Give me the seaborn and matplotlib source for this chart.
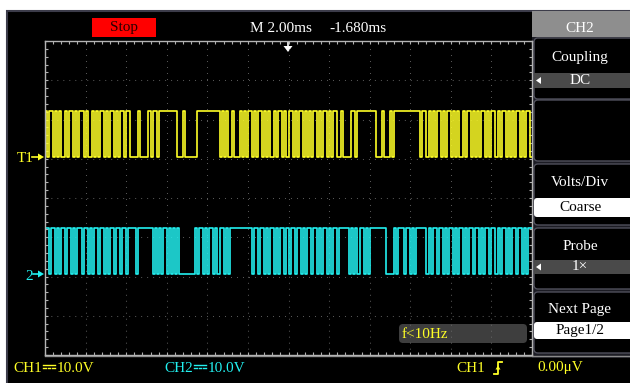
import numpy as np
import pandas as pd
import matplotlib
matplotlib.use("Agg")
import matplotlib.pyplot as plt
from matplotlib.patches import Rectangle, FancyBboxPatch, Polygon
import seaborn as sns

# ---------------------------
# Data (bit levels, 0.1 ms per bit, 240 bits = 12 div x 2 ms)
# ---------------------------
bit_ms = 0.1
high_volts = 11.7

ch1_bits = "".join([
    "101101010010110101101001010110101101011011",
    "00001000010",
    "110111111111",
    "0001000000",
    "11111111111",
    "0101",
    "00100010",
    "1011010110101001011010110101101010110101101011",
    "0010000",
    "110111111111",
    "0001000",
    "10111111111111",
    "10110101011010110101001011010101101011010110101011010110",
])

ch2_bits = "".join([
    "110110101101101011011010110110101101101101",
    "11101111111",
    "0101011010101",
    "00000000",
    "10110101101011010",
    "1111111111",
    "10110110101101011010110110101101101011010110",
    "11111",
    "01010110101",
    "1111111",
    "0000",
    "10111011010111",
    "110101101101011010110101101101011011010110101101101011",
])

time_per_div = 2.0      # ms
volts_per_div = 10.0
ch1_offset = 1.045      # divisions
ch2_offset = -1.94

yellow = "#ffff26"
cyan = "#22f0f0"


def trace(bits, name, offset):
    lv = np.array([int(c) for c in bits] + [int(bits[-1])], dtype=float)
    t = np.arange(len(lv)) * bit_ms
    v = lv * high_volts
    return pd.DataFrame({"t": t, "div": v / volts_per_div + offset, "ch": name})


df = pd.concat([trace(ch1_bits, "CH1", ch1_offset),
                trace(ch2_bits, "CH2", ch2_offset)], ignore_index=True)

plt.rcParams["font.family"] = ["Liberation Serif", "DejaVu Sans"]

fig = plt.figure(figsize=(6.3, 3.83), dpi=100, facecolor="white")

# overlay in pixel coordinates
bg = fig.add_axes([0, 0, 1, 1])
bg.set_xlim(0, 630)
bg.set_ylim(383, 0)
bg.axis("off")

bg.add_patch(Rectangle((7, 11), 640, 380, facecolor="black", edgecolor="#3c3c4a", lw=1.5))

# right menu panel
bg.add_patch(Rectangle((532, 11), 100, 26, facecolor="#8e8e8e", edgecolor="none"))
bg.add_patch(Rectangle((532, 37), 100, 321, facecolor="#1c1c24", edgecolor="none"))
box_tops = [37, 99, 163, 227, 291]
for top in box_tops:
    bg.add_patch(FancyBboxPatch((534, top + 1), 110, 61, boxstyle="round,pad=0,rounding_size=4",
                                facecolor="black", edgecolor="#50505c", lw=1))

txt = dict(ha="center", va="center", fontsize=11)
bg.text(580, 28, "CH2", color="white", **txt)
bg.text(580, 57, "Coupling", color="white", **txt)
bg.add_patch(Rectangle((534, 73), 98, 15, facecolor="#4a4a4a", edgecolor="none"))
bg.add_patch(Polygon([(536, 80.5), (541, 77), (541, 84)], facecolor="white"))
bg.text(580, 80, "DC", color="white", **txt)

bg.text(580, 183, "Volts/Div", color="white", **txt)
bg.add_patch(FancyBboxPatch((534, 198), 110, 19, boxstyle="round,pad=0,rounding_size=3",
                            facecolor="white", edgecolor="none"))
bg.text(580, 207.5, "Coarse", color="black", **txt)

bg.text(580, 247, "Probe", color="white", **txt)
bg.add_patch(Rectangle((534, 260), 98, 14, facecolor="#4a4a4a", edgecolor="none"))
bg.add_patch(Polygon([(536, 267), (541, 263.5), (541, 270.5)], facecolor="white"))
bg.text(580, 267, "1\u00d7", color="white", **txt)

bg.text(580, 310, "Next Page", color="white", **txt)
bg.add_patch(FancyBboxPatch((534, 322), 110, 17, boxstyle="round,pad=0,rounding_size=3",
                            facecolor="white", edgecolor="none"))
bg.text(580, 330.5, "Page1/2", color="black", **txt)
bg.plot([45, 630], [356, 356], color="#8a8a8a", lw=1)

# top bar
bg.add_patch(Rectangle((92, 18), 64, 19, facecolor="#ff0000", edgecolor="none"))
bg.text(124, 28, "Stop", color="#2a0000", **txt)
bg.text(250, 28, "M 2.00ms", color="white", ha="left", va="center", fontsize=11)
bg.text(329, 28, "-1.680ms", color="white", ha="left", va="center", fontsize=11)
bg.plot([288, 288], [42, 47], color="white", lw=1.2)
bg.add_patch(Polygon([(283.5, 46), (292.5, 46), (288, 52)], facecolor="white"))

# channel markers
bg.text(17, 158, "T1", color=yellow, ha="left", va="center", fontsize=11)
bg.plot([32, 40], [157, 157], color=yellow, lw=1.2)
bg.add_patch(Polygon([(38, 153.5), (44, 157), (38, 160.5)], facecolor=yellow))
bg.text(25, 276, "2", color=cyan, ha="left", va="center", fontsize=11)
bg.plot([33, 40], [274, 274], color=cyan, lw=1.2)
bg.add_patch(Polygon([(38, 270.5), (44, 274), (38, 277.5)], facecolor=cyan))

# frequency readout
bg.add_patch(FancyBboxPatch((399, 324), 128, 19, boxstyle="round,pad=0,rounding_size=4",
                            facecolor="#3e3e3e", edgecolor="none"))
bg.text(402, 334, "f<10Hz", color=yellow, ha="left", va="center", fontsize=11)


# bottom status line; the DC coupling sign (no installed glyph) is drawn as a shape
def dc_sign(x, color):
    bg.plot([x, x + 12], [364.5, 364.5], color=color, lw=1)
    for k in range(3):
        bg.plot([x + k * 4.5, x + k * 4.5 + 2.5], [368, 368], color=color, lw=1)


bg.text(13, 368, "CH1", color=yellow, ha="left", va="center", fontsize=11)
dc_sign(43, yellow)
bg.text(57, 368, "10.0V", color=yellow, ha="left", va="center", fontsize=11)
bg.text(164, 368, "CH2", color=cyan, ha="left", va="center", fontsize=11)
dc_sign(194, cyan)
bg.text(208, 368, "10.0V", color=cyan, ha="left", va="center", fontsize=11)
bg.text(456, 368, "CH1", color=yellow, ha="left", va="center", fontsize=11)
bg.plot([494, 498, 498, 502], [374, 374, 362, 362], color=yellow, lw=1.3)
bg.add_patch(Polygon([(495.5, 369.5), (500.5, 369.5), (498, 365.5)], facecolor=yellow))
bg.text(537, 368, "0.00\u03bcV", color=yellow, ha="left", va="center", fontsize=11)

# graticule with the two traces
ax = fig.add_axes([45 / 630, 1 - 355 / 383, (532 - 45) / 630, (355 - 41) / 383])
ax.set_facecolor("none")
sns.lineplot(data=df, x="t", y="div", hue="ch", palette={"CH1": yellow, "CH2": cyan},
             drawstyle="steps-post", estimator=None, sort=False, legend=False, lw=1.2, ax=ax)
ax.set_xlim(0, 12 * time_per_div)
ax.set_ylim(-4, 4)
ax.set_xticks(np.arange(0, 24.1, time_per_div))
ax.set_xticks(np.arange(0, 24.1, time_per_div / 5), minor=True)
ax.set_yticks(np.arange(-4, 4.1, 1))
ax.set_yticks(np.arange(-4, 4.1, 0.2), minor=True)
ax.grid(True, which="major", color="#707070", lw=0.75, linestyle=(0, (0.75, 5.0)))
ax.tick_params(which="both", direction="in", length=2.5, color="#b0b0b0", width=0.8,
               top=True, right=True, labelbottom=False, labelleft=False)
for s in ax.spines.values():
    s.set_color("#b4b4b4")
    s.set_linewidth(1)
ax.set_xlabel("")
ax.set_ylabel("")

fig.savefig("out.png", dpi=100, facecolor="white")
